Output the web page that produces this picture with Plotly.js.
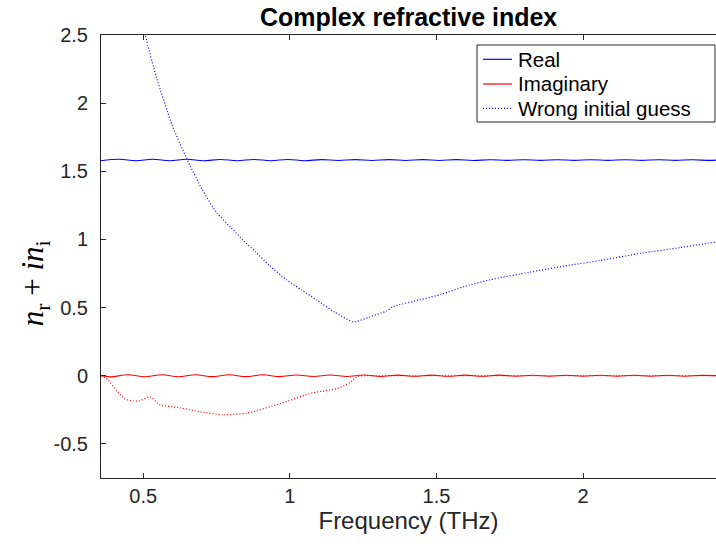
<!DOCTYPE html>
<html>
<head>
<meta charset="utf-8">
<script src="https://cdn.plot.ly/plotly-3.0.1.min.js"></script>
<style>html,body{margin:0;padding:0;background:#fff;}#plot{width:716px;height:544px;}</style>
</head>
<body>
<div id="plot"></div>
<script>
// Real part (solid blue)
var freqReal = [0.356, 0.418, 0.475, 0.533, 0.590, 0.648, 0.705, 0.763, 0.820, 0.878, 0.935, 0.993, 1.050, 1.108, 1.165, 1.223, 1.280, 1.338, 1.395, 1.453, 1.510, 1.568, 1.625, 1.683, 1.740, 1.798, 1.855, 1.913, 1.970, 2.028, 2.085, 2.143, 2.200, 2.258, 2.315, 2.373, 2.430, 2.453];
var nReal = [1.577, 1.588, 1.577, 1.588, 1.577, 1.588, 1.577, 1.587, 1.578, 1.587, 1.578, 1.587, 1.578, 1.586, 1.579, 1.586, 1.579, 1.586, 1.579, 1.586, 1.579, 1.586, 1.579, 1.585, 1.580, 1.585, 1.580, 1.585, 1.580, 1.585, 1.580, 1.585, 1.580, 1.585, 1.580, 1.585, 1.580, 1.582];

// Imaginary part (solid red)
var freqImag = [0.356, 0.390, 0.448, 0.505, 0.563, 0.620, 0.678, 0.735, 0.793, 0.850, 0.908, 0.965, 1.023, 1.080, 1.138, 1.195, 1.253, 1.310, 1.368, 1.425, 1.483, 1.540, 1.598, 1.655, 1.713, 1.770, 1.828, 1.885, 1.943, 2.000, 2.058, 2.115, 2.173, 2.230, 2.288, 2.345, 2.403, 2.453];
var nImag = [0.000, -0.008, 0.007, -0.007, 0.007, -0.007, 0.007, -0.006, 0.007, -0.006, 0.007, -0.006, 0.006, -0.005, 0.006, -0.005, 0.006, -0.005, 0.005, -0.004, 0.005, -0.004, 0.005, -0.004, 0.005, -0.003, 0.004, -0.003, 0.004, -0.003, 0.004, -0.003, 0.004, -0.003, 0.004, -0.003, 0.003, 0.001];

// Wrong initial guess – real part (dotted blue)
var freqGuessR = [0.356, 0.400, 0.450, 0.507, 0.545, 0.600, 0.649, 0.700, 0.751, 0.800, 0.840, 0.880, 0.930, 0.989, 1.040, 1.091, 1.150, 1.218, 1.270, 1.310, 1.330, 1.350, 1.443, 1.520, 1.590, 1.682, 1.818, 1.950, 2.056, 2.200, 2.330, 2.453];
var guessR = [4.80, 3.86, 3.10, 2.50, 2.19, 1.83, 1.59, 1.37, 1.195, 1.085, 0.995, 0.915, 0.81, 0.704, 0.63, 0.557, 0.47, 0.396, 0.43, 0.46, 0.475, 0.506, 0.557, 0.60, 0.652, 0.704, 0.76, 0.81, 0.845, 0.90, 0.94, 0.982];

// Wrong initial guess – imaginary part (dotted red)
var freqGuessI = [0.356, 0.380, 0.410, 0.437, 0.465, 0.489, 0.523, 0.557, 0.625, 0.693, 0.772, 0.853, 0.966, 1.078, 1.160, 1.205, 1.230, 1.300, 1.500, 2.000, 2.453];
var guessI = [0.000, -0.030, -0.110, -0.170, -0.185, -0.183, -0.154, -0.213, -0.235, -0.264, -0.286, -0.274, -0.205, -0.125, -0.095, -0.050, -0.005, 0.000, 0.000, 0.000, 0.000];

var xTicks = [0.5, 1, 1.5, 2];
var xTickText = ['0.5', '1', '1.5', '2'];
var yTicks = [-0.5, 0, 0.5, 1, 1.5, 2, 2.5];
var yTickText = ['-0.5', '0', '0.5', '1', '1.5', '2', '2.5'];
var legendNames = ['Real', 'Imaginary', 'Wrong initial guess'];
var legendColors = ['#0000ff', '#ff0000', '#0000ff'];
var legendDash = ['solid', 'solid', '1px,2px'];

var axisColor = '#262626';
var baseFont = 'Liberation Sans, Arial, Helvetica, sans-serif';

var traces = [
  {x: freqReal, y: nReal, name: legendNames[0], mode: 'lines', line: {color: '#0000ff', width: 1.1, shape: 'spline', smoothing: 1}},
  {x: freqImag, y: nImag, name: legendNames[1], mode: 'lines', line: {color: '#ff0000', width: 1.1, shape: 'spline', smoothing: 1}},
  {x: freqGuessR, y: guessR, name: legendNames[2], mode: 'lines', line: {color: '#0000ff', width: 1.2, dash: '1px,2px', shape: 'spline', smoothing: 0.6}},
  {x: freqGuessI, y: guessI, name: 'Wrong initial guess (imag)', mode: 'lines', line: {color: '#ff0000', width: 1.2, dash: '1px,2px', shape: 'spline', smoothing: 0.6}}
];

// Legend drawn as a box with swatches (paper coordinates)
var legBox = {x0: 0.6114, x1: 0.9984, y0: 0.8036, y1: 0.9774};
var legRows = [0.9451, 0.8894, 0.8345];
var shapes = [{type: 'rect', xref: 'paper', yref: 'paper', x0: legBox.x0, x1: legBox.x1, y0: legBox.y0, y1: legBox.y1,
  fillcolor: '#ffffff', line: {color: axisColor, width: 1}, layer: 'above'}];
var annotations = [];
for (var i = 0; i < legendNames.length; i++) {
  shapes.push({type: 'line', xref: 'paper', yref: 'paper', x0: 0.6211, x1: 0.6683, y0: legRows[i], y1: legRows[i],
    line: {color: legendColors[i], width: 1.2, dash: legendDash[i]}, layer: 'above'});
  annotations.push({text: legendNames[i], xref: 'paper', yref: 'paper', x: 0.6748, y: legRows[i], xanchor: 'left', yanchor: 'middle',
    showarrow: false, font: {family: baseFont, size: 20.5, color: '#000000'}});
}
annotations.push({
  text: '<i>n</i><sub>r</sub> + <i>in</i><sub>i</sub>',
  xref: 'paper', yref: 'paper', x: -0.107, y: 0.44, xanchor: 'center', yanchor: 'middle',
  textangle: -90, showarrow: false,
  font: {family: 'Liberation Serif, DejaVu Serif, serif', size: 31, color: '#000000'}
});

var layout = {
  width: 716, height: 544,
  margin: {l: 101, r: 0, t: 35, b: 66},
  paper_bgcolor: '#ffffff', plot_bgcolor: '#ffffff',
  font: {family: baseFont, color: axisColor, size: 20},
  title: {text: '<b>Complex refractive index</b>', font: {family: baseFont, size: 25, color: '#000000'}, x: 0.5707, xanchor: 'center', y: 0.968, yanchor: 'middle'},
  showlegend: false,
  xaxis: {
    range: [0.356, 2.453], tickvals: xTicks, ticktext: xTickText,
    showgrid: false, zeroline: false, showline: true, linecolor: axisColor, linewidth: 1,
    mirror: 'ticks', ticks: 'inside', ticklen: 5, tickcolor: axisColor, tickwidth: 1,
    tickfont: {family: baseFont, size: 20, color: axisColor},
    title: {text: 'Frequency (THz)', font: {family: baseFont, size: 24, color: axisColor}, standoff: 4}
  },
  yaxis: {
    range: [-0.75, 2.5], tickvals: yTicks, ticktext: yTickText,
    showgrid: false, zeroline: false, showline: true, linecolor: axisColor, linewidth: 1,
    mirror: false, ticks: 'inside', ticklen: 5, tickcolor: axisColor, tickwidth: 1,
    ticklabelstandoff: 8,
    tickfont: {family: baseFont, size: 20, color: axisColor}
  },
  shapes: shapes,
  annotations: annotations
};

Plotly.newPlot('plot', traces, layout, {displayModeBar: false, staticPlot: true});
</script>
</body>
</html>
